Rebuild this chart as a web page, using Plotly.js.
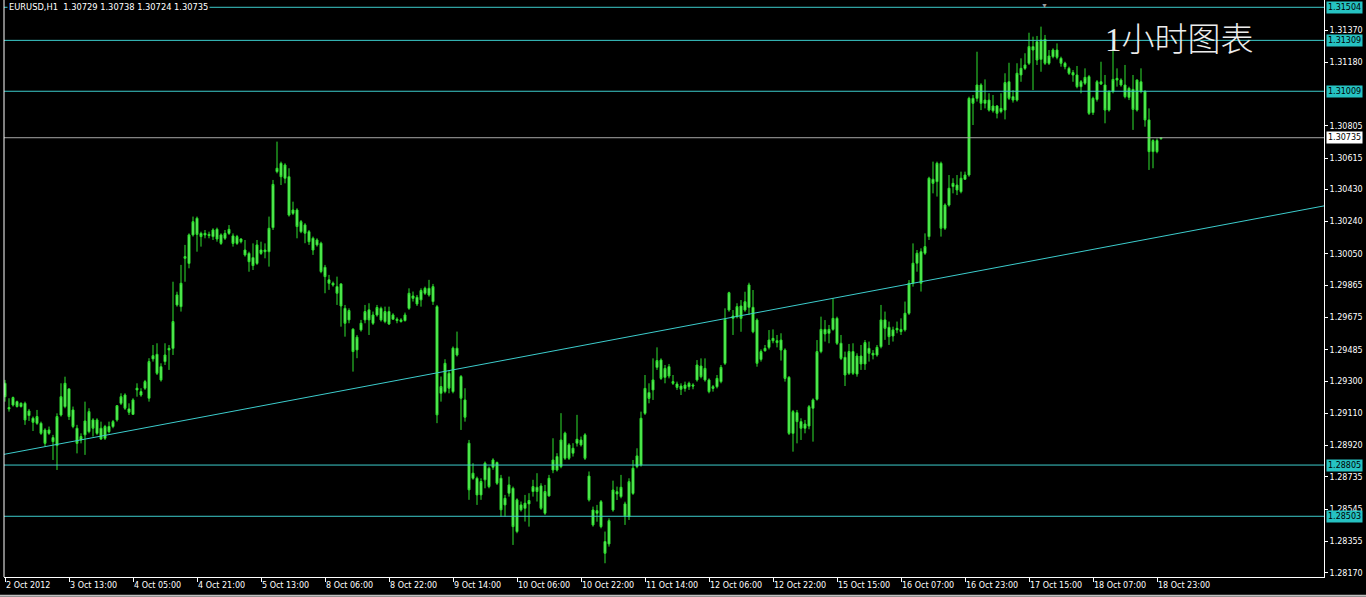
<!DOCTYPE html>
<html>
<head>
<meta charset="utf-8">
<script src="https://cdn.plot.ly/plotly-3.0.1.min.js"></script>
<style>html,body{margin:0;padding:0;background:#000;}#chart{width:1366px;height:597px;}</style>
</head>
<body>
<div id="chart"></div>
<script>
// EURUSD H1 hourly bars, first bar = 2 Oct 2012 21:00 (bar index on x axis)
const openP = [
1.29287,1.29136,1.29159,1.29179,1.29150,1.29169,1.29097,1.29081,1.29051,1.29051,
1.29012,1.28992,1.28967,1.28920,1.29100,1.29150,1.29254,1.29130,1.29022,1.28953,
1.28983,1.29002,1.29071,1.28992,1.29022,1.28963,1.29032,1.29032,1.29071,1.29169,
1.29218,1.29136,1.29104,1.29248,1.29238,1.29258,1.29199,1.29431,1.29458,1.29385,
1.29415,1.29493,1.29493,1.29749,1.29739,1.30024,1.29994,1.30162,1.30260,1.30171,
1.30162,1.30165,1.30152,1.30195,1.30162,1.30142,1.30171,1.30156,1.30112,1.30138,
1.30073,1.30053,1.30028,1.29994,1.30073,1.30063,1.30063,1.30205,1.30535,1.30584,
1.30496,1.30505,1.30289,1.30309,1.30181,1.30221,1.30181,1.30142,1.30103,1.30113,
1.29971,1.29897,1.29877,1.29857,1.29873,1.29729,1.29661,1.29606,1.29484,1.29602,
1.29661,1.29720,1.29641,1.29690,1.29729,1.29651,1.29710,1.29665,1.29665,1.29661,
1.29657,1.29729,1.29802,1.29794,1.29779,1.29818,1.29847,1.29769,1.29739,1.29228,
1.29238,1.29346,1.29238,1.29494,1.29327,1.29189,1.28934,1.28727,1.28727,1.28629,
1.28718,1.28786,1.28792,1.28820,1.28727,1.28570,1.28639,1.28668,1.28413,1.28570,
1.28550,1.28576,1.28649,1.28674,1.28682,1.28521,1.28623,1.28776,1.28855,1.28796,
1.28845,1.28924,1.28875,1.28934,1.28953,1.28983,1.28740,1.28540,1.28521,1.28589,
1.28354,1.28340,1.28540,1.28648,1.28619,1.28576,1.28501,1.28638,1.28796,1.28805,
1.29110,1.29232,1.29248,1.29381,1.29424,1.29322,1.29385,1.29297,1.29283,1.29271,
1.29257,1.29267,1.29277,1.29307,1.29389,1.29307,1.29307,1.29267,1.29267,1.29297,
1.29405,1.29719,1.29684,1.29680,1.29743,1.29719,1.29735,1.29735,1.29660,1.29428,
1.29479,1.29499,1.29538,1.29538,1.29542,1.29483,1.29322,1.28992,1.29114,1.29061,
1.29022,1.29035,1.29140,1.29193,1.29474,1.29605,1.29582,1.29605,1.29670,1.29523,
1.29440,1.29346,1.29474,1.29342,1.29448,1.29401,1.29493,1.29464,1.29454,1.29503,
1.29661,1.29617,1.29566,1.29611,1.29592,1.29602,1.29700,1.29877,1.29995,1.30063,
1.30054,1.30152,1.30490,1.30476,1.30584,1.30201,1.30338,1.30447,1.30456,1.30417,
1.30490,1.30515,1.30967,1.30967,1.31046,1.30938,1.30957,1.30894,1.30922,1.30889,
1.30898,1.31065,1.30977,1.30957,1.31105,1.31144,1.31174,1.31272,1.31301,1.31197,
1.31315,1.31174,1.31213,1.31252,1.31203,1.31174,1.31144,1.31119,1.31105,1.31036,
1.31056,1.31095,1.30883,1.30961,1.31065,1.31046,1.30898,1.31007,1.31085,1.31075,
1.31046,1.30973,1.31020,1.30898,1.31065,1.31007,1.30840,1.30653,1.30718,1.30729];
const highP = [
1.29307,1.29199,1.29209,1.29185,1.29175,1.29179,1.29136,1.29091,1.29130,1.29061,
1.29022,1.29032,1.28983,1.29110,1.29287,1.29326,1.29258,1.29150,1.29042,1.28992,
1.29179,1.29140,1.29081,1.29081,1.29061,1.29042,1.29061,1.29071,1.29159,1.29228,
1.29228,1.29169,1.29199,1.29287,1.29258,1.29307,1.29435,1.29513,1.29523,1.29405,
1.29523,1.29513,1.29886,1.29827,1.29985,1.30103,1.30171,1.30270,1.30270,1.30181,
1.30191,1.30181,1.30201,1.30205,1.30171,1.30191,1.30220,1.30171,1.30162,1.30142,
1.30132,1.30063,1.30112,1.30132,1.30122,1.30112,1.30270,1.30486,1.30712,1.30594,
1.30584,1.30555,1.30358,1.30319,1.30250,1.30231,1.30191,1.30152,1.30142,1.30122,
1.29985,1.29926,1.29887,1.29916,1.29877,1.29749,1.29729,1.29612,1.29572,1.29661,
1.29749,1.29759,1.29710,1.29749,1.29739,1.29739,1.29739,1.29700,1.29676,1.29671,
1.29704,1.29847,1.29828,1.29808,1.29847,1.29857,1.29897,1.29873,1.29749,1.29327,
1.29429,1.29366,1.29504,1.29592,1.29336,1.29258,1.28953,1.28816,1.28737,1.28727,
1.28826,1.28796,1.28845,1.28826,1.28747,1.28629,1.28737,1.28678,1.28609,1.28590,
1.28629,1.28639,1.28718,1.28757,1.28698,1.28688,1.28747,1.28963,1.28875,1.29111,
1.29002,1.28934,1.28934,1.29101,1.28973,1.28993,1.28767,1.28560,1.28570,1.28599,
1.28413,1.28491,1.28713,1.28678,1.28747,1.28589,1.28727,1.28835,1.28904,1.29120,
1.29336,1.29287,1.29434,1.29499,1.29434,1.29395,1.29401,1.29336,1.29297,1.29287,
1.29297,1.29297,1.29287,1.29424,1.29434,1.29434,1.29316,1.29277,1.29336,1.29395,
1.29729,1.29827,1.29719,1.29759,1.29778,1.29827,1.29880,1.29837,1.29670,1.29487,
1.29513,1.29601,1.29605,1.29572,1.29582,1.29493,1.29330,1.29130,1.29130,1.29081,
1.29071,1.29159,1.29198,1.29542,1.29680,1.29660,1.29631,1.29788,1.29680,1.29572,
1.29474,1.29519,1.29523,1.29464,1.29513,1.29542,1.29533,1.29483,1.29513,1.29749,
1.29710,1.29651,1.29621,1.29651,1.29670,1.29769,1.29896,1.30112,1.30073,1.30083,
1.30171,1.30505,1.30594,1.30594,1.30594,1.30348,1.30515,1.30496,1.30515,1.30535,
1.30535,1.30977,1.30987,1.31242,1.31056,1.31079,1.30997,1.30987,1.30928,1.30997,
1.31115,1.31177,1.31016,1.31174,1.31203,1.31233,1.31354,1.31331,1.31335,1.31390,
1.31341,1.31252,1.31262,1.31291,1.31213,1.31183,1.31154,1.31134,1.31158,1.31075,
1.31144,1.31105,1.30977,1.31075,1.31183,1.31105,1.31016,1.31272,1.31144,1.31085,
1.31164,1.31036,1.31105,1.31079,1.31144,1.31016,1.30908,1.30726,1.30731,1.30738];
const lowP = [
1.29179,1.29120,1.29150,1.29144,1.29144,1.29042,1.29065,1.29006,1.29042,1.28983,
1.28914,1.28983,1.28835,1.28776,1.29091,1.29140,1.29071,1.29022,1.28874,1.28933,
1.28865,1.28992,1.28973,1.28983,1.28953,1.28953,1.28992,1.29022,1.29061,1.29159,
1.29130,1.29100,1.29100,1.29208,1.29208,1.29248,1.29179,1.29415,1.29336,1.29297,
1.29395,1.29366,1.29454,1.29739,1.29710,1.29886,1.29965,1.30152,1.30063,1.30093,
1.30142,1.30142,1.30132,1.30122,1.30103,1.30132,1.30162,1.30093,1.30103,1.30112,
1.30034,1.29945,1.29955,1.29985,1.30044,1.30024,1.29975,1.30191,1.30525,1.30456,
1.30466,1.30270,1.30279,1.30142,1.30172,1.30113,1.30103,1.30044,1.30093,1.29936,
1.29818,1.29838,1.29857,1.29749,1.29621,1.29562,1.29641,1.29356,1.29435,1.29592,
1.29641,1.29572,1.29631,1.29680,1.29651,1.29641,1.29631,1.29661,1.29641,1.29645,
1.29651,1.29720,1.29769,1.29743,1.29739,1.29808,1.29798,1.29749,1.29052,1.29179,
1.29228,1.29228,1.29228,1.29445,1.29012,1.29061,1.28600,1.28718,1.28570,1.28600,
1.28668,1.28668,1.28777,1.28688,1.28501,1.28501,1.28619,1.28334,1.28403,1.28531,
1.28472,1.28442,1.28619,1.28590,1.28541,1.28511,1.28619,1.28757,1.28767,1.28786,
1.28835,1.28835,1.28855,1.28914,1.28914,1.28835,1.28590,1.28442,1.28471,1.28432,
1.28226,1.28324,1.28530,1.28599,1.28609,1.28452,1.28481,1.28629,1.28786,1.28796,
1.29100,1.29169,1.29189,1.29366,1.29307,1.29287,1.29316,1.29277,1.29248,1.29218,
1.29238,1.29248,1.29252,1.29297,1.29316,1.29297,1.29228,1.29238,1.29257,1.29287,
1.29395,1.29709,1.29572,1.29670,1.29591,1.29709,1.29690,1.29582,1.29385,1.29415,
1.29474,1.29487,1.29523,1.29499,1.29421,1.29297,1.28982,1.28884,1.28933,1.28953,
1.28992,1.29016,1.28943,1.29185,1.29464,1.29533,1.29523,1.29597,1.29513,1.29424,
1.29271,1.29336,1.29336,1.29326,1.29366,1.29366,1.29415,1.29428,1.29444,1.29493,
1.29543,1.29513,1.29533,1.29582,1.29572,1.29592,1.29690,1.29857,1.29945,1.29828,
1.30044,1.30132,1.30407,1.30388,1.30152,1.30191,1.30329,1.30407,1.30397,1.30407,
1.30486,1.30505,1.30810,1.30948,1.30898,1.30908,1.30889,1.30883,1.30849,1.30879,
1.30843,1.30957,1.30942,1.30948,1.31065,1.31134,1.31164,1.31016,1.31164,1.31124,
1.31164,1.31164,1.31203,1.31197,1.31154,1.31138,1.31105,1.31065,1.31026,1.30997,
1.31046,1.30869,1.30869,1.30948,1.31046,1.30820,1.30889,1.30997,1.31036,1.31036,
1.30967,1.30957,1.30781,1.30889,1.30997,1.30800,1.30545,1.30555,1.30643,1.30724];
const closeP = [
1.29208,1.29144,1.29203,1.29150,1.29169,1.29071,1.29124,1.29057,1.29091,1.28992,
1.28933,1.29012,1.28943,1.29091,1.29208,1.29287,1.29091,1.29032,1.28933,1.28973,
1.29065,1.29120,1.29022,1.29071,1.28959,1.29032,1.29002,1.29061,1.29155,1.29208,
1.29140,1.29116,1.29189,1.29258,1.29218,1.29297,1.29415,1.29450,1.29346,1.29307,
1.29454,1.29484,1.29651,1.29808,1.29877,1.30034,1.30162,1.30240,1.30165,1.30152,
1.30171,1.30158,1.30191,1.30138,1.30112,1.30171,1.30195,1.30112,1.30152,1.30122,
1.30044,1.30004,1.29981,1.30103,1.30053,1.30073,1.30201,1.30460,1.30555,1.30505,
1.30574,1.30279,1.30309,1.30211,1.30240,1.30172,1.30122,1.30073,1.30132,1.29946,
1.29916,1.29877,1.29867,1.29818,1.29743,1.29641,1.29716,1.29474,1.29559,1.29641,
1.29710,1.29661,1.29690,1.29734,1.29661,1.29710,1.29637,1.29690,1.29657,1.29651,
1.29690,1.29818,1.29788,1.29755,1.29834,1.29847,1.29808,1.29857,1.29101,1.29268,
1.29405,1.29258,1.29494,1.29454,1.29199,1.29087,1.28659,1.28757,1.28629,1.28708,
1.28816,1.28678,1.28835,1.28698,1.28541,1.28609,1.28688,1.28442,1.28600,1.28541,
1.28580,1.28596,1.28678,1.28649,1.28550,1.28649,1.28727,1.28835,1.28776,1.28953,
1.28993,1.28845,1.28904,1.28957,1.28924,1.28845,1.28600,1.28452,1.28536,1.28442,
1.28285,1.28477,1.28658,1.28635,1.28674,1.28505,1.28707,1.28786,1.28859,1.29081,
1.29257,1.29198,1.29307,1.29421,1.29316,1.29375,1.29330,1.29287,1.29263,1.29252,
1.29277,1.29287,1.29271,1.29395,1.29326,1.29375,1.29238,1.29257,1.29316,1.29381,
1.29664,1.29821,1.29670,1.29739,1.29670,1.29768,1.29867,1.29591,1.29405,1.29474,
1.29493,1.29542,1.29552,1.29527,1.29483,1.29316,1.28992,1.29120,1.29061,1.29022,
1.29047,1.29149,1.29189,1.29474,1.29605,1.29578,1.29605,1.29670,1.29523,1.29434,
1.29336,1.29474,1.29346,1.29448,1.29401,1.29527,1.29464,1.29454,1.29499,1.29661,
1.29611,1.29562,1.29602,1.29602,1.29605,1.29700,1.29877,1.29995,1.30054,1.29877,
1.30093,1.30496,1.30466,1.30584,1.30201,1.30338,1.30437,1.30466,1.30427,1.30496,
1.30515,1.30967,1.30938,1.31046,1.30938,1.30957,1.30898,1.30922,1.30879,1.30908,
1.31060,1.30967,1.30957,1.31115,1.31144,1.31164,1.31272,1.31252,1.31193,1.31311,
1.31174,1.31217,1.31252,1.31209,1.31174,1.31154,1.31115,1.31105,1.31036,1.31065,
1.31091,1.30879,1.30967,1.31065,1.31052,1.30898,1.31007,1.31079,1.31075,1.31046,
1.30977,1.31026,1.30902,1.31075,1.31007,1.30840,1.30653,1.30718,1.30653,1.30735];

// time-axis labels, one every 16 bars
const tickBars = [0,16,32,48,64,80,96,112,128,144,160,176,192,208,224,240,256,272,288];
const tickLabels = ["2 Oct 2012","3 Oct 13:00","4 Oct 05:00","4 Oct 21:00","5 Oct 13:00","8 Oct 06:00",
  "8 Oct 22:00","9 Oct 14:00","10 Oct 06:00","10 Oct 22:00","11 Oct 14:00","12 Oct 06:00","12 Oct 22:00",
  "15 Oct 15:00","16 Oct 07:00","16 Oct 23:00","17 Oct 15:00","18 Oct 07:00","18 Oct 23:00"];
// price scale labels
const priceTicks = [1.31370,1.31180,1.30805,1.30615,1.30430,1.30240,1.30050,1.29865,1.29675,
  1.29485,1.29300,1.29110,1.28920,1.28735,1.28545,1.28355,1.28170];
// horizontal support/resistance levels
const levels = [1.31504,1.31309,1.31009,1.28805,1.28503];
const lastPrice = 1.30735;
// trend line anchor points [bar, price]
const trendBars = [-0.25, 329.75];
const trendPrices = [1.28868, 1.30333];
const header = "EURUSD,H1\u00a0\u00a01.30729 1.30738 1.30724 1.30735";
const chartTitle = "1小时图表";

const xIdx = openP.map((_, i) => i);

const candleColor = '#2ee02e';
const trace = {
  type: 'candlestick',
  x: xIdx, open: openP, high: highP, low: lowP, close: closeP,
  increasing: {line: {color: candleColor, width: 1}, fillcolor: '#6cf06c'},
  decreasing: {line: {color: candleColor, width: 1}, fillcolor: '#6cf06c'},
  whiskerwidth: 0,
  hoverinfo: 'skip',
  showlegend: false
};

const tickFont = {family: 'DejaVu Sans, Liberation Sans, sans-serif', size: 8, color: '#ffffff'};
const levelColor = '#3ccccc';

const shapes = [];
levels.forEach(v => shapes.push({type: 'line', xref: 'paper', x0: 0, x1: 1, yref: 'y', y0: v, y1: v,
  line: {color: levelColor, width: 1}}));
shapes.push({type: 'line', xref: 'paper', x0: 0, x1: 1, yref: 'y', y0: lastPrice, y1: lastPrice,
  line: {color: '#a8a8a8', width: 1}});
shapes.push({type: 'line', xref: 'x', x0: trendBars[0], x1: trendBars[1], yref: 'y',
  y0: trendPrices[0], y1: trendPrices[1], line: {color: levelColor, width: 1}});
shapes.push({type: 'line', xref: 'paper', x0: 0, x1: 0, yref: 'paper', y0: 0, y1: 1,
  line: {color: '#ffffff', width: 1}});
shapes.push({type: 'line', xref: 'paper', x0: -0.01, x1: 1.04, yref: 'paper', y0: -0.0325, y1: -0.0325,
  line: {color: '#c0c0c0', width: 2}});

const annotations = [];
levels.forEach(v => annotations.push({xref: 'paper', x: 1, xanchor: 'left', xshift: 2, yref: 'y', y: v,
  yanchor: 'middle', text: v.toFixed(5), showarrow: false, bgcolor: '#26c2c2', borderpad: 1,
  font: {family: tickFont.family, size: 8, color: '#000000'}}));
annotations.push({xref: 'paper', x: 1, xanchor: 'left', xshift: 2, yref: 'y', y: lastPrice,
  yanchor: 'middle', text: lastPrice.toFixed(5), showarrow: false, bgcolor: '#ffffff', borderpad: 1,
  font: {family: tickFont.family, size: 8, color: '#000000'}});
annotations.push({xref: 'paper', x: 0, xanchor: 'left', xshift: 3, yref: 'paper', y: 1, yanchor: 'top',
  yshift: 0, text: header, showarrow: false, bgcolor: '#000000', borderpad: 1,
  font: {family: tickFont.family, size: 8.3, color: '#ffffff'}});
annotations.push({xref: 'paper', x: 0.8905, xanchor: 'center', yref: 'paper', y: 0.93, yanchor: 'middle',
  text: chartTitle, showarrow: false,
  font: {family: 'Liberation Serif, Noto Sans CJK SC, serif', size: 33, weight: 300, color: '#ececec'}});
annotations.push({xref: 'paper', x: 0.7886, xanchor: 'center', yref: 'paper', y: 1, yanchor: 'top',
  yshift: 1, text: '▼', showarrow: false, font: {size: 7, color: '#9a9a9a'}});

const layout = {
  width: 1366, height: 597,
  paper_bgcolor: '#000000', plot_bgcolor: '#000000',
  margin: {l: 4, r: 42, t: 0, b: 20, pad: 0},
  showlegend: false,
  xaxis: {
    type: 'linear', range: [-0.25, 329.75], tickmode: 'array', tickvals: tickBars, ticktext: tickLabels,
    ticks: 'outside', ticklen: 4, tickcolor: '#ffffff', tickwidth: 1,
    showline: true, linecolor: '#ffffff', linewidth: 1, showgrid: false, zeroline: false,
    tickfont: tickFont, ticklabelposition: 'outside right',
    rangeslider: {visible: false}, fixedrange: true
  },
  yaxis: {
    side: 'right', range: [1.28145, 1.31547], tickmode: 'array', tickvals: priceTicks,
    ticktext: priceTicks.map(v => v.toFixed(5)),
    ticks: 'outside', ticklen: 3, tickcolor: '#ffffff', tickwidth: 1,
    showline: true, linecolor: '#ffffff', linewidth: 1, showgrid: false, zeroline: false,
    tickfont: tickFont, fixedrange: true
  },
  shapes: shapes,
  annotations: annotations
};

Plotly.newPlot('chart', [trace], layout, {displayModeBar: false, staticPlot: true});
</script>
</body>
</html>
